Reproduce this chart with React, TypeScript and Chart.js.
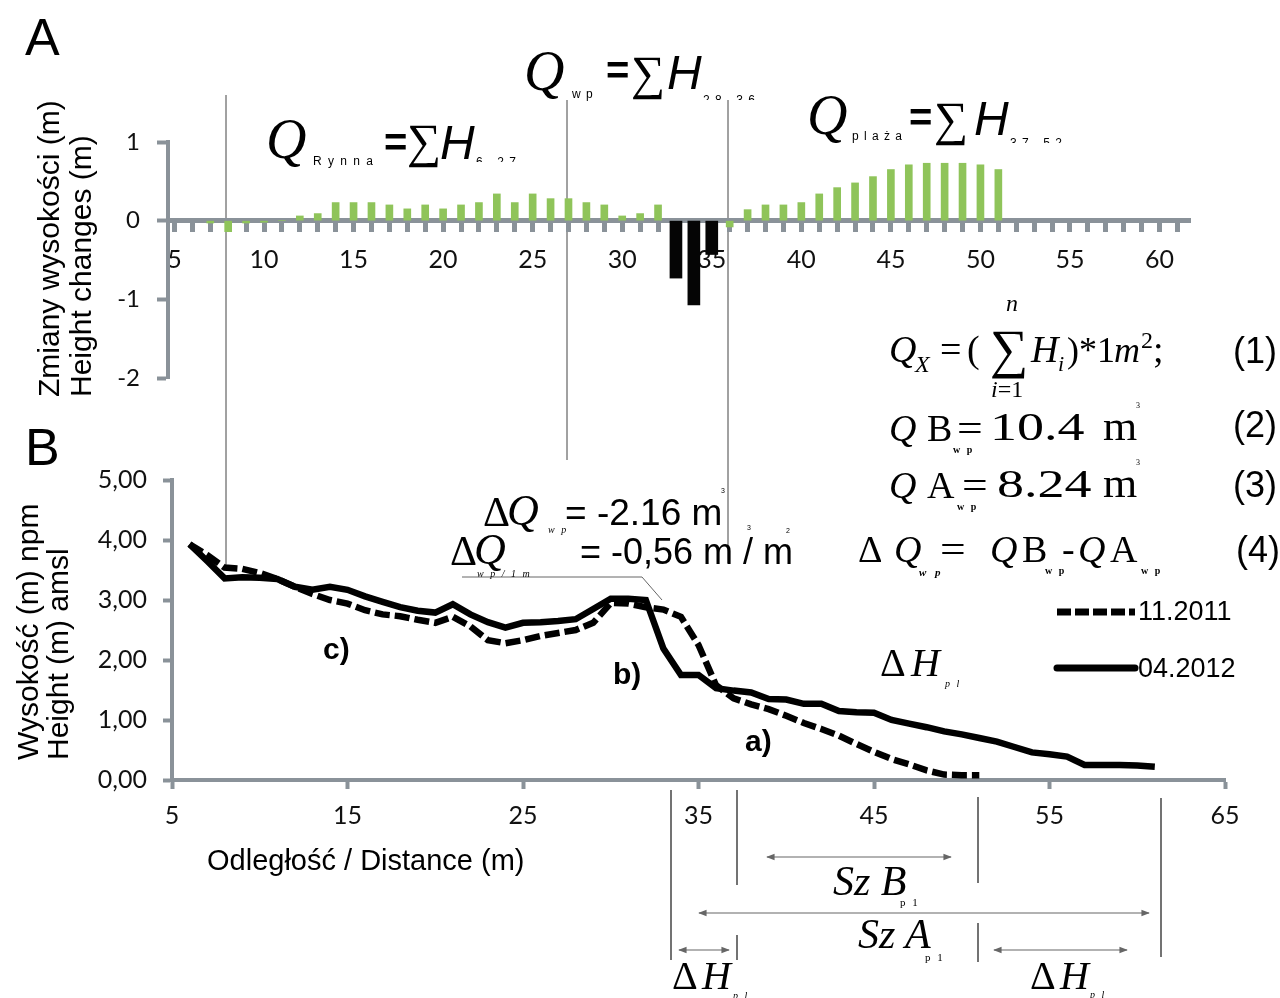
import React, { useEffect, useRef } from 'react';
import { Chart, registerables } from 'chart.js';

Chart.register(...registerables);

// ---------- DATA: panel A (height changes, m) ----------
const barPositions = [7, 8, 9, 10, 11, 12, 13, 14, 15, 16, 17, 18, 19, 20, 21, 22, 23, 24, 25, 26, 27, 28, 29, 30, 31, 32, 36, 37, 38, 39, 40, 41, 42, 43, 44, 45, 46, 47, 48, 49, 50, 51];
const barChanges = [-0.03, -0.14, -0.03, -0.02, 0, 0.06, 0.09, 0.23, 0.23, 0.23, 0.2, 0.15, 0.2, 0.15, 0.2, 0.23, 0.34, 0.23, 0.34, 0.28, 0.28, 0.23, 0.2, 0.06, 0.09, 0.2, -0.08, 0.14, 0.2, 0.2, 0.23, 0.34, 0.42, 0.48, 0.56, 0.65, 0.71, 0.73, 0.73, 0.73, 0.71, 0.65];
const erosionPositions = [33, 34, 35];
const erosionChanges = [-0.73, -1.07, -0.43];
const barTickLabels = [5, 10, 15, 20, 25, 30, 35, 40, 45, 50, 55, 60];
const barYTicks = [1, 0, -1, -2];
const barTickMarks: number[] = [];
for (let v = 5.5; v <= 61.5; v += 1) barTickMarks.push(v);

// ---------- DATA: panel B (profiles, m amsl) ----------
const profile2012Distances = [6, 7, 8, 9, 10, 11, 12, 13, 14, 15, 16, 17, 18, 19, 20, 21, 22, 23, 24, 25, 26, 27, 28, 29, 30, 31, 32, 33, 34, 35, 36, 37, 38, 39, 40, 41, 42, 43, 44, 45, 46, 47, 48, 49, 50, 51, 52, 53, 54, 55, 56, 57, 58, 59, 60, 61];
const profile2012 = [3.93, 3.65, 3.36, 3.38, 3.37, 3.35, 3.22, 3.17, 3.22, 3.17, 3.06, 2.97, 2.88, 2.82, 2.79, 2.93, 2.76, 2.63, 2.54, 2.62, 2.63, 2.65, 2.68, 2.85, 3.02, 3.02, 3.0, 2.19, 1.75, 1.75, 1.53, 1.49, 1.46, 1.35, 1.34, 1.27, 1.27, 1.15, 1.13, 1.12, 1.0, 0.94, 0.88, 0.81, 0.76, 0.7, 0.64, 0.55, 0.46, 0.43, 0.39, 0.25, 0.25, 0.25, 0.24, 0.22];
const profile2011Distances = [6, 7, 8, 9, 10, 11, 12, 13, 14, 15, 16, 17, 18, 19, 20, 21, 22, 23, 24, 25, 26, 27, 28, 29, 30, 31, 32, 33, 34, 35, 36, 37, 38, 39, 40, 41, 42, 43, 44, 45, 46, 47, 48, 49, 50, 51];
const profile2011 = [3.93, 3.75, 3.54, 3.52, 3.45, 3.35, 3.22, 3.1, 3.0, 2.94, 2.83, 2.76, 2.73, 2.67, 2.62, 2.72, 2.56, 2.33, 2.28, 2.33, 2.4, 2.45, 2.5, 2.62, 2.95, 2.94, 2.88, 2.84, 2.72, 2.25, 1.58, 1.36, 1.26, 1.18, 1.07, 0.95, 0.85, 0.74, 0.6, 0.47, 0.35, 0.26, 0.16, 0.09, 0.08, 0.08];
const profileXTicks = [5, 15, 25, 35, 45, 55, 65];
const profileYTicks = [0, 1, 2, 3, 4, 5];

const GREY = '#8a9299';
const GREEN = '#8fc45a';
const SANS = '"Liberation Sans", Arial, sans-serif';
const SERIF = '"Liberation Serif", "Times New Roman", serif';
const TICKFONT = 'Lato, "Open Sans", sans-serif';

type TP = { x: number; y: number; s: number; f?: string; i?: boolean; b?: boolean; ls?: number; sx?: number; clip?: number; children: React.ReactNode };
function T({ x, y, s, f = SANS, i, b, ls, sx, clip, children }: TP) {
  const style: React.CSSProperties = {
    position: 'absolute', left: x, top: y - 0.845 * s, fontSize: s, lineHeight: `${s}px`, fontFamily: f,
    fontStyle: i ? 'italic' : 'normal', fontWeight: b ? 700 : 400, letterSpacing: ls, whiteSpace: 'pre', color: '#000',
    transform: sx ? `scaleX(${sx})` : undefined, transformOrigin: '0 0',
    overflow: clip ? 'hidden' : undefined, height: clip ? clip : undefined,
  };
  return <div style={style}>{children}</div>;
}

export default function App() {
  const topRef = useRef<HTMLCanvasElement>(null);
  const botRef = useRef<HTMLCanvasElement>(null);

  useEffect(() => {
    const topChart = new Chart(topRef.current as HTMLCanvasElement, {
      type: 'bar',
      data: {
        datasets: [
          { label: 'Zmiany', data: barPositions.map((x, k) => ({ x, y: barChanges[k] })), backgroundColor: GREEN, barThickness: 7, grouped: false } as any,
          { label: 'Erozja', data: erosionPositions.map((x, k) => ({ x, y: erosionChanges[k] })), backgroundColor: '#050505', barThickness: 12, grouped: false } as any,
        ],
      },
      options: {
        responsive: false, animation: false, events: [],
        layout: { padding: { left: 108, right: 90, top: 142, bottom: 620 } },
        plugins: { legend: { display: false }, tooltip: { enabled: false } },
        scales: {
          x: {
            type: 'linear', min: 4.64, max: 61.7, offset: false, position: { y: 0 } as any,
            afterBuildTicks: (s: any) => { s.ticks = barTickLabels.map((v) => ({ value: v })); },
            afterFit: (s: any) => { s.height = 0; },
            grid: { display: true, drawOnChartArea: false, drawTicks: false },
            border: { display: true, color: GREY, width: 5 },
            ticks: { padding: 24, font: { family: TICKFONT, size: 25 }, color: '#111', maxRotation: 0, autoSkip: false },
          },
          x2: {
            type: 'linear', min: 4.64, max: 61.7, offset: false, position: { y: 0 } as any,
            afterBuildTicks: (s: any) => { s.ticks = barTickMarks.map((v) => ({ value: v })); },
            afterFit: (s: any) => { s.height = 0; },
            grid: { display: true, drawOnChartArea: false, drawTicks: true, tickLength: 11, tickWidth: 5, tickColor: GREY },
            border: { display: false },
            ticks: { display: false },
          },
          y: {
            type: 'linear', min: -2, max: 1,
            afterBuildTicks: (s: any) => { s.ticks = barYTicks.map((v) => ({ value: v })); },
            afterFit: (s: any) => { s.width = 60; },
            grid: { drawOnChartArea: false, tickLength: 11, tickWidth: 4, tickColor: GREY },
            border: { color: GREY, width: 4 },
            ticks: { padding: 17, font: { family: TICKFONT, size: 24 }, color: '#111' },
          },
        } as any,
      },
    });

    const botChart = new Chart(botRef.current as HTMLCanvasElement, {
      type: 'line',
      data: {
        datasets: [
          { label: '11.2011', data: profile2011Distances.map((x, k) => ({ x, y: profile2011[k] })), borderColor: '#000', borderWidth: 6.5, borderDash: [15, 5], pointRadius: 0, tension: 0, fill: false },
          { label: '04.2012', data: profile2012Distances.map((x, k) => ({ x, y: profile2012[k] })), borderColor: '#000', borderWidth: 6.5, pointRadius: 0, tension: 0, fill: false },
        ],
      },
      options: {
        responsive: false, animation: false, events: [],
        layout: { padding: { left: 52, right: 55, top: 480, bottom: 138 } },
        plugins: { legend: { display: false }, tooltip: { enabled: false } },
        scales: {
          x: {
            type: 'linear', min: 5, max: 65,
            afterBuildTicks: (s: any) => { s.ticks = profileXTicks.map((v) => ({ value: v })); },
            afterFit: (s: any) => { s.height = 80; },
            grid: { drawOnChartArea: false, tickLength: 9, tickWidth: 4, tickColor: GREY },
            border: { color: GREY, width: 4 },
            ticks: { padding: 12, font: { family: TICKFONT, size: 25 }, color: '#111', maxRotation: 0, autoSkip: false },
          },
          y: {
            type: 'linear', min: 0, max: 5,
            afterBuildTicks: (s: any) => { s.ticks = profileYTicks.map((v) => ({ value: v })); },
            afterFit: (s: any) => { s.width = 120; },
            grid: { drawOnChartArea: false, tickLength: 9, tickWidth: 4, tickColor: GREY },
            border: { color: GREY, width: 4 },
            ticks: { padding: 16, font: { family: TICKFONT, size: 25 }, color: '#111', callback: (v: any) => Number(v).toFixed(2).replace('.', ',') },
          },
        } as any,
      },
    });

    return () => { topChart.destroy(); botChart.destroy(); };
  }, []);

  const ln = '#444';
  const ar = '#666';
  return (
    <div style={{ position: 'absolute', left: 0, top: 0, width: 1280, height: 998, background: '#fff', overflow: 'hidden' }}>
      <svg width={1280} height={998} style={{ position: 'absolute', left: 0, top: 0 }}>
        <defs>
          <marker id="ah" viewBox="0 0 10 10" refX="9" refY="5" markerWidth="7" markerHeight="7" orient="auto-start-reverse">
            <path d="M0,1 L10,5 L0,9 z" fill={ar} />
          </marker>
        </defs>
        {/* section boundaries */}
        <line x1={226} y1={95} x2={226} y2={565} stroke={ln} strokeWidth={1} />
        <line x1={567} y1={100} x2={567} y2={460} stroke={ln} strokeWidth={1} />
        <line x1={728} y1={100} x2={728} y2={563} stroke={ln} strokeWidth={1} />
        <polyline points="462,577 642,577 662,600" fill="none" stroke="#666" strokeWidth={1} />
        {/* bottom brackets */}
        <line x1={671} y1={790} x2={671} y2={960} stroke={ln} strokeWidth={1.5} />
        <line x1={737} y1={790} x2={737} y2={885} stroke={ln} strokeWidth={1.5} />
        <line x1={737} y1={935} x2={737} y2={960} stroke={ln} strokeWidth={1.5} />
        <line x1={978} y1={797} x2={978} y2={883} stroke={ln} strokeWidth={1.5} />
        <line x1={978} y1={923} x2={978} y2={962} stroke={ln} strokeWidth={1.5} />
        <line x1={1161} y1={798} x2={1161} y2={957} stroke={ln} strokeWidth={1.5} />
        <line x1={767} y1={857} x2={951} y2={857} stroke={ar} strokeWidth={1.2} markerStart="url(#ah)" markerEnd="url(#ah)" />
        <line x1={699} y1={913} x2={1149} y2={913} stroke={ar} strokeWidth={1.2} markerStart="url(#ah)" markerEnd="url(#ah)" />
        <line x1={679} y1={950} x2={729} y2={950} stroke={ar} strokeWidth={1.2} markerStart="url(#ah)" markerEnd="url(#ah)" />
        <line x1={994} y1={950} x2={1127} y2={950} stroke={ar} strokeWidth={1.2} markerStart="url(#ah)" markerEnd="url(#ah)" />
        {/* legend samples */}
        <line x1={1057} y1={612} x2={1135} y2={612} stroke="#000" strokeWidth={7} strokeDasharray="14 4" />
        <line x1={1057} y1={668} x2={1135} y2={668} stroke="#000" strokeWidth={7} strokeLinecap="round" />
      </svg>
      <canvas ref={topRef} width={1280} height={998} style={{ position: 'absolute', left: 0, top: 0 }} />
      <canvas ref={botRef} width={1280} height={998} style={{ position: 'absolute', left: 0, top: 0 }} />

      {/* panel letters */}
      <T x={25} y={55} s={52}>A</T>
      <T x={25} y={465} s={52}>B</T>

      {/* axis titles */}
      <div style={{ position: 'absolute', left: 33, top: 397, transform: 'rotate(-90deg)', transformOrigin: '0 0', fontFamily: SANS, fontSize: 30, lineHeight: '32px', whiteSpace: 'nowrap', color: '#000' }}>
        Zmiany wysokości (m)<br />Height changes (m)
      </div>
      <div style={{ position: 'absolute', left: 13, top: 760, transform: 'rotate(-90deg)', transformOrigin: '0 0', fontFamily: SANS, fontSize: 30, lineHeight: '30px', whiteSpace: 'nowrap', color: '#000' }}>
        Wysokość (m) npm<br />Height (m) amsl
      </div>
      <T x={207} y={871} s={29}>Odległość / Distance (m)</T>

      {/* Q Rynna */}
      <T x={266} y={158} s={56} f={SERIF} i>Q</T>
      <T x={313} y={165} s={12} ls={1.5}>R y n n a</T>
      <T x={384} y={156} s={40} b>=</T>
      <T x={407} y={158} s={48} f={SERIF}>∑</T>
      <T x={440} y={160} s={48} i>H</T>
      <T x={476} y={166} s={12} ls={1} clip={6}>6 - 2 7</T>
      {/* Q wp */}
      <T x={524} y={90} s={56} f={SERIF} i>Q</T>
      <T x={572} y={98} s={12} ls={1}>w p</T>
      <T x={606} y={84} s={40} b>=</T>
      <T x={631} y={90} s={48} f={SERIF}>∑</T>
      <T x={667} y={90} s={48} i>H</T>
      <T x={703} y={104} s={12} ls={1} clip={6}>2 8 - 3 6</T>
      {/* Q plaza */}
      <T x={807} y={134} s={56} f={SERIF} i>Q</T>
      <T x={852} y={140} s={12} ls={1}>p l a ż a</T>
      <T x={909} y={131} s={40} b>=</T>
      <T x={934} y={136} s={48} f={SERIF}>∑</T>
      <T x={974} y={136} s={48} i>H</T>
      <T x={1010} y={147} s={12} ls={1} clip={6}>3 7 - 5 2</T>

      {/* formula (1) */}
      <T x={889} y={362} s={38} f={SERIF} i>Q</T>
      <T x={915} y={372} s={24} f={SERIF} i>X</T>
      <T x={940} y={362} s={38} f={SERIF}>=</T>
      <T x={967} y={362} s={38} f={SERIF}>(</T>
      <T x={990} y={368} s={54} f={SERIF}>∑</T>
      <T x={1006} y={311} s={24} f={SERIF} i>n</T>
      <T x={991} y={397} s={24} f={SERIF}><i>i</i>=1</T>
      <T x={1031} y={362} s={38} f={SERIF} i>H</T>
      <T x={1058} y={372} s={22} f={SERIF} i>i</T>
      <T x={1067} y={362} s={36} f={SERIF}>)*1</T>
      <T x={1114} y={362} s={36} f={SERIF} i>m</T>
      <T x={1141} y={348} s={24} f={SERIF}>2</T>
      <T x={1153} y={362} s={38} f={SERIF}>;</T>
      <T x={1233} y={363} s={36}>(1)</T>
      {/* formula (2) */}
      <T x={889} y={441} s={38} f={SERIF} i>Q</T>
      <T x={927} y={441} s={38} f={SERIF}>B</T>
      <T x={953} y={453} s={10} f={SERIF} b ls={2}>w p</T>
      <T x={957} y={441} s={38} f={SERIF} sx={1.2}>=</T>
      <T x={990} y={441} s={40} f={SERIF} sx={1.35}>10.4</T>
      <T x={1103} y={441} s={40} f={SERIF} sx={1.1}>m</T>
      <T x={1136} y={409} s={8} f={SERIF}>3</T>
      <T x={1233} y={437} s={36}>(2)</T>
      {/* formula (3) */}
      <T x={889} y={498} s={38} f={SERIF} i>Q</T>
      <T x={927} y={498} s={38} f={SERIF}>A</T>
      <T x={957} y={510} s={10} f={SERIF} b ls={2}>w p</T>
      <T x={962} y={498} s={38} f={SERIF} sx={1.2}>=</T>
      <T x={997} y={498} s={40} f={SERIF} sx={1.35}>8.24</T>
      <T x={1103} y={498} s={40} f={SERIF} sx={1.1}>m</T>
      <T x={1136} y={466} s={8} f={SERIF}>3</T>
      <T x={1233} y={497} s={36}>(3)</T>
      {/* formula (4) */}
      <T x={858} y={562} s={38} f={SERIF}>Δ</T>
      <T x={894} y={562} s={38} f={SERIF} i>Q</T>
      <T x={919} y={576} s={11} f={SERIF} i b ls={3}>w p</T>
      <T x={940} y={562} s={38} f={SERIF} sx={1.2}>=</T>
      <T x={990} y={562} s={38} f={SERIF} i>Q</T>
      <T x={1022} y={562} s={38} f={SERIF}>B</T>
      <T x={1045} y={574} s={10} f={SERIF} b ls={2}>w p</T>
      <T x={1062} y={562} s={38} f={SERIF}>-</T>
      <T x={1078} y={562} s={38} f={SERIF} i>Q</T>
      <T x={1110} y={562} s={38} f={SERIF}>A</T>
      <T x={1141} y={574} s={10} f={SERIF} b ls={2}>w p</T>
      <T x={1236} y={562} s={36}>(4)</T>

      {/* delta Q annotations */}
      <T x={483} y={526} s={42} f={SERIF}>Δ</T>
      <T x={507} y={526} s={44} f={SERIF} i>Q</T>
      <T x={548} y={533} s={10} f={SERIF} i ls={2}>w p</T>
      <T x={565} y={525} s={37}>= -2.16 m</T>
      <T x={721} y={493} s={7}>3</T>
      <T x={450} y={565} s={42} f={SERIF}>Δ</T>
      <T x={474} y={565} s={44} f={SERIF} i>Q</T>
      <T x={477} y={577} s={10} f={SERIF} i ls={2}>w p / 1 m</T>
      <T x={580} y={564} s={36}>= -0,56 m / m</T>
      <T x={747} y={530} s={7}>3</T>
      <T x={786} y={533} s={7}>2</T>

      {/* profile labels */}
      <T x={323} y={659} s={30} b>c)</T>
      <T x={613} y={684} s={30} b>b)</T>
      <T x={745} y={751} s={30} b>a)</T>
      <T x={880} y={677} s={40} f={SERIF}>Δ</T>
      <T x={911} y={677} s={40} f={SERIF} i>H</T>
      <T x={945} y={687} s={10} f={SERIF} i ls={2}>p l</T>

      {/* legend text */}
      <T x={1138} y={621} s={27}>11.2011</T>
      <T x={1138} y={678} s={27}>04.2012</T>

      {/* width annotations */}
      <T x={833} y={895} s={42} f={SERIF} i>Sz B</T>
      <T x={900} y={906} s={11} f={SERIF} ls={2}>p 1</T>
      <T x={858} y={948} s={42} f={SERIF} i>Sz A</T>
      <T x={925} y={961} s={11} f={SERIF} ls={2}>p 1</T>
      <T x={672} y={990} s={40} f={SERIF}>Δ</T>
      <T x={702} y={990} s={40} f={SERIF} i>H</T>
      <T x={733} y={999} s={10} f={SERIF} i ls={2}>p l</T>
      <T x={1030} y={990} s={40} f={SERIF}>Δ</T>
      <T x={1060} y={990} s={40} f={SERIF} i>H</T>
      <T x={1090} y={998} s={10} f={SERIF} i ls={2}>p l</T>
    </div>
  );
}
